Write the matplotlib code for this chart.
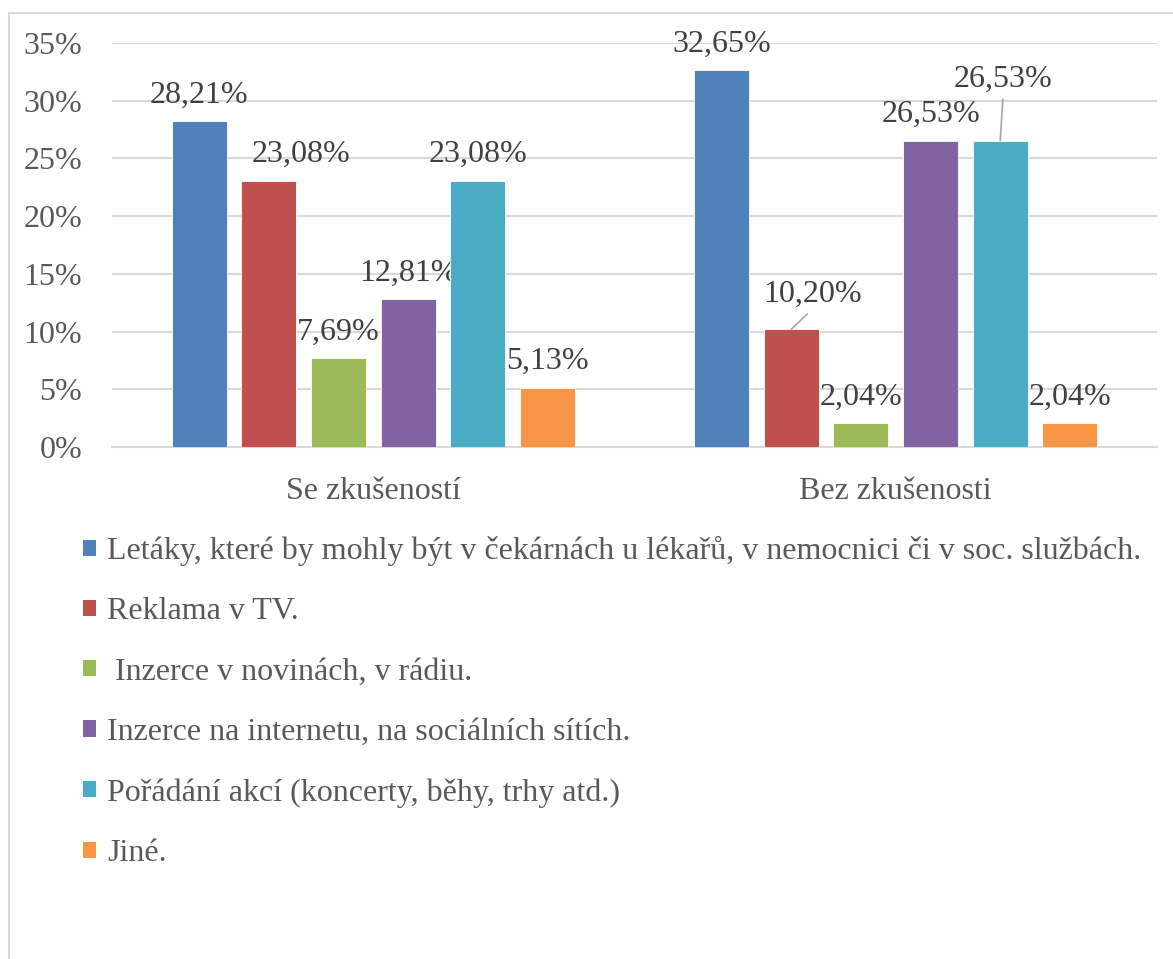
import numpy as np
import matplotlib.pyplot as plt
from matplotlib.patches import Rectangle

plt.rcParams['font.family'] = ['Liberation Serif', 'DejaVu Serif']

# Data
groups = ["Se zkušeností", "Bez zkušenosti"]
series = [
    "Letáky, které by mohly být v čekárnách u lékařů, v nemocnici či v soc. službách.",
    "Reklama v TV.",
    " Inzerce v novinách, v rádiu.",
    "Inzerce na internetu, na sociálních sítích.",
    "Pořádání akcí (koncerty, běhy, trhy atd.)",
    "Jiné.",
]
values = [
    [28.21, 32.65],
    [23.08, 10.20],
    [7.69, 2.04],
    [12.81, 26.53],
    [23.08, 26.53],
    [5.13, 2.04],
]
colors = ["#4F81BD", "#C0504D", "#9BBB59", "#8064A2", "#4BACC6", "#F79646"]
yticks = [0, 5, 10, 15, 20, 25, 30, 35]

# label offsets in pixels (dx, dy above bar top); a few were moved by hand in the original
default_off = (0, 26)
shifted = {(1, 0): (32, 26)}
leader = {(1, 1): (21, 20), (4, 1): (3, 47)}

fig = plt.figure(figsize=(11.73, 9.59), dpi=100)
ax = fig.add_axes([112 / 1173, 1 - 447 / 959, 1045 / 1173, 404 / 959])

# chart border (cut off on the right and bottom like the screenshot)
fig.patches.append(Rectangle((8.5 / 1173, -0.1), 1.2, 1 - 13 / 959 + 0.1,
                             transform=fig.transFigure, fill=False,
                             edgecolor="#d9d9d9", linewidth=1.5))

x = np.arange(len(groups))
step = 0.1333
width = 0.105
text_col = "#404040"

for i, (name, vals, c) in enumerate(zip(series, values, colors)):
    pos = x + (i - 2.5) * step
    ax.bar(pos, vals, width, color=c, label=name, edgecolor="white", linewidth=0.6, zorder=3)
    for j, (p, v) in enumerate(zip(pos, vals)):
        lbl = f"{v:.2f}".replace(".", ",") + "%"
        if (i, j) in leader:
            ax.annotate(lbl, xy=(p, v), xytext=leader[(i, j)], textcoords="offset pixels",
                        ha="center", va="bottom", fontsize=23, color=text_col,
                        arrowprops=dict(arrowstyle="-", color="#a6a6a6", lw=1.2,
                                        relpos=(0.5, 0.0), shrinkA=2, shrinkB=0))
        else:
            ax.annotate(lbl, xy=(p, v), xytext=shifted.get((i, j), default_off),
                        textcoords="offset pixels",
                        ha="center", va="center", fontsize=23, color=text_col)

ax.set_xlim(-0.5, 1.5)
ax.set_ylim(0, 35)
ax.set_yticks(yticks)
ax.set_yticklabels([f"{t}%" for t in yticks])
ax.set_xticks(x)
ax.set_xticklabels(groups)
ax.tick_params(axis="both", length=0, labelsize=23, labelcolor="#595959")
ax.tick_params(axis="y", pad=21.5)
ax.tick_params(axis="x", pad=21.5)
ax.yaxis.grid(True, color="#d9d9d9", linewidth=1.5, zorder=0)
for s in ["top", "right", "left"]:
    ax.spines[s].set_visible(False)
ax.spines["bottom"].set_color("#d9d9d9")
ax.spines["bottom"].set_linewidth(1.5)

leg = fig.legend(loc="upper left", bbox_to_anchor=(83 / 1173, 1 - 536 / 959),
                 frameon=False, fontsize=23, labelcolor="#595959",
                 handlelength=0.4, handleheight=0.4, handletextpad=0.35,
                 labelspacing=0.98, borderpad=0, borderaxespad=0)
for h in leg.legend_handles:
    h.set_edgecolor("none")

fig.savefig("out.png", dpi=100)
